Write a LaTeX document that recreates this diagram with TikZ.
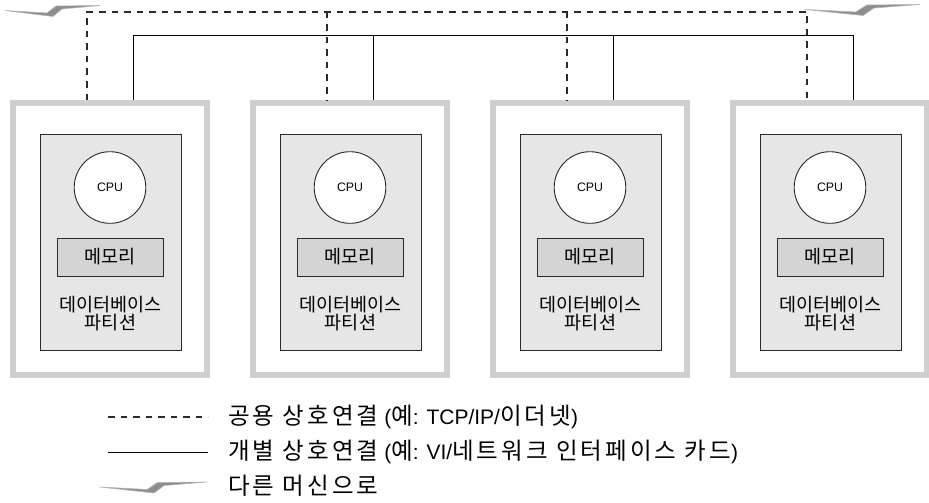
\documentclass[tikz,border=0pt]{standalone}
\usepackage{fontspec}
\setmainfont{Liberation Sans}
\newfontfamily\kr{Noto Sans CJK KR}
\newfontfamily\krwide[LetterSpace=13]{Noto Sans CJK KR}
\definecolor{boxgray}{HTML}{CFCFCF}
\definecolor{innerfill}{HTML}{E6E6E6}
\definecolor{memfill}{HTML}{D4D4D4}
\definecolor{ink}{HTML}{2A2A2A}
\definecolor{boltfill}{HTML}{8E8E8E}
\definecolor{boltedge}{HTML}{B4B4B4}
\tikzset{
  outerbox/.style={draw=boxgray, line width=6pt, fill=white, minimum width=194pt, minimum height=272pt, inner sep=0pt},
  innerbox/.style={draw=ink, line width=0.9pt, fill=innerfill, minimum width=141pt, minimum height=216pt, inner sep=0pt},
  cpunode/.style={draw=ink, line width=0.9pt, fill=white, circle, minimum size=71.6pt, inner sep=0pt, font=\fontsize{12.3}{14}\selectfont},
  memnode/.style={draw=ink, line width=0.9pt, fill=memfill, minimum width=106pt, minimum height=38pt, inner sep=0pt, font=\kr\fontsize{18.5}{20}\selectfont},
  dbtext/.style={align=center, inner sep=0pt, font=\kr\fontsize{18.5}{17.5}\selectfont},
  pubbus/.style={draw=ink, line width=1.2pt, dash pattern=on 6.5pt off 6pt},
  privbus/.style={draw=black, line width=1pt},
  legendtext/.style={anchor=west, inner sep=0pt, font=\fontsize{21}{24}\selectfont},
  bolt/.pic={\fill[boltfill, draw=boltedge, line width=0.6pt, line join=round]
     (0,0) -- (42,2.5) -- (51,-4.5) -- (95,-5) -- (57,-1.5) -- (48,6) -- cycle;}
}
\newcommand{\hk}[1]{{\krwide\fontsize{23.5}{24}\selectfont #1}}
\begin{document}
\begin{tikzpicture}[x=1pt,y=-1pt]
\useasboundingbox (0,0) rectangle (929,503);
% machines
\foreach \k in {1,2,3,4}{
  \pgfmathsetmacro{\dx}{240*(\k-1)}
  \node[outerbox] (m\k) at (110+\dx,239) {};
  \node[innerbox] (in\k) at (110.5+\dx,242) {};
  \node[cpunode] (cpu\k) at (110+\dx,187.5) {CPU};
  \node[memnode] (mem\k) at (110+\dx,257) {메모리};
  \node[dbtext] (db\k) at (110.5+\dx,313.5) {데이터베이스\\파티션};
  \coordinate (p\k) at (87+\dx,12);
  \coordinate (s\k) at (133+\dx,36);
}
% public interconnect (dashed)
\draw[pubbus] (p1 |- m1.north) -- (p1) -- (p4) -- (p4 |- m4.north);
\draw[pubbus] (p2) -- (p2 |- m2.north);
\draw[pubbus] (p3) -- (p3 |- m3.north);
% private interconnect (solid)
\draw[privbus] (s1 |- m1.north) -- (s1) -- (s4) -- (s4 |- m4.north);
\draw[privbus] (s2) -- (s2 |- m2.north);
\draw[privbus] (s3) -- (s3 |- m3.north);
% bolts to other machines
\pic at (5,10.5) {bolt};
\pic[xscale=1.21] at (805,9.5) {bolt};
% legend
\node[legendtext] (l1) at (228,417) {\hk{공용 상호연결} (\hk{예}: TCP/IP/\hk{이더넷})};
\node[legendtext] (l2) at (228,452) {\hk{개별 상호연결} (\hk{예}: VI/\hk{네트워크 인터페이스 카드})};
\node[legendtext] (l3) at (228,486) {\hk{다른 머신으로}};
\coordinate (a1) at (108,417); \coordinate (b1) at (208,417);
\coordinate (a2) at (108,452); \coordinate (b2) at (208,452);
\draw[pubbus] (a1) -- (b1);
\draw[privbus] (a2) -- (b2);
\pic[xscale=1.126] at (100,487) {bolt};
\end{tikzpicture}
\end{document}
